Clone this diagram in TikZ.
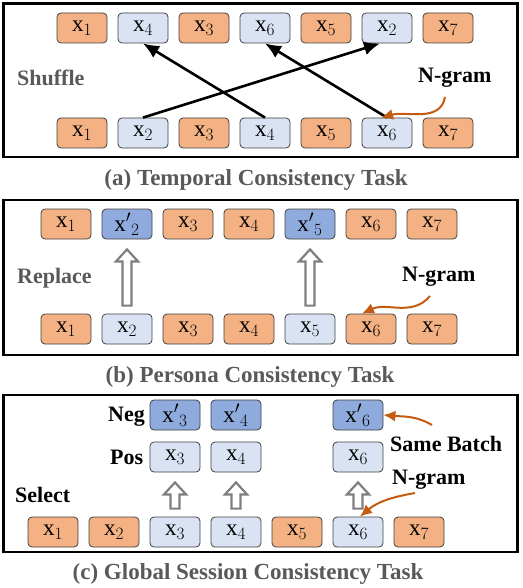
\documentclass[tikz,border=0pt]{standalone}
\usepackage{fontspec}
\setmainfont{Liberation Serif}
\usetikzlibrary{arrows.meta,calc}

\definecolor{tokor}{HTML}{F4B183}
\definecolor{tokbl}{HTML}{DAE3F3}
\definecolor{tokdk}{HTML}{8FAADC}
\definecolor{ngor}{HTML}{C55A11}
\definecolor{capgr}{HTML}{595959}
\definecolor{arrgr}{HTML}{7F7F7F}

\newcommand\tokx[1]{$\mathrm{x}_{#1}$}
\newcommand\tokxp[1]{${\mathrm{x}'}_{#1}$}

\tikzset{
  tok/.style={draw=black!75, line width=0.8pt, rounded corners=4pt,
    minimum width=50pt, minimum height=30pt, inner sep=0pt,
    font=\fontsize{23}{25}\selectfont},
  otok/.style={tok, fill=tokor},
  ltok/.style={tok, fill=tokbl},
  dtok/.style={tok, fill=tokdk},
  panel/.style={line width=2.8pt},
  lab/.style={inner sep=0pt, anchor=west, font=\fontsize{22}{24}\selectfont\bfseries},
  capt/.style={text=capgr, font=\fontsize{23}{25}\selectfont\bfseries},
  shufarrow/.style={line width=2.6pt, -{Latex[length=16pt,width=14pt]}},
  ngarrow/.style={draw=ngor, line width=2pt, -{Latex[length=12pt,width=11pt]}},
  hollowarr/.style={draw=arrgr, line width=2.2pt, fill=white},
}

% hollow block arrow from one token up to another
\newcommand\hollowup[2]{%
  \draw[hollowarr] let \p1=(#1.north), \p2=(#2.south) in
    (\x1-4.5pt,\y1+8pt) -- (\x1+4.5pt,\y1+8pt) -- (\x1+4.5pt,\y2-22pt)
    -- (\x1+11pt,\y2-22pt) -- (\x1,\y2-10pt) -- (\x1-11pt,\y2-22pt)
    -- (\x1-4.5pt,\y2-22pt) -- cycle;}

\begin{document}
\begin{tikzpicture}[x=1pt,y=-1pt]
  \useasboundingbox (0,0) rectangle (522,588);

  % (a) temporal
  \draw[panel] (3.5,3.5) rectangle (517.5,157);
  \foreach \i/\k/\s in {1/1/otok,2/4/ltok,3/3/otok,4/6/ltok,5/5/otok,6/2/ltok,7/7/otok}
    {
      \node[\s] (ta\k) at ({21+61*\i},28) {\tokx{\k}};
    }
  \foreach \i/\s in {1/otok,2/ltok,3/otok,4/ltok,5/otok,6/ltok,7/otok}
    {
      \node[\s] (ba\i) at ({21+61*\i},133) {\tokx{\i}};
    }
  \draw[shufarrow] (ba2.north) -- ([xshift=-7pt]ta2.south);
  \draw[shufarrow] (ba4.north) -- (ta4.south);
  \draw[shufarrow] (ba6.north) -- (ta6.south);
  \node[lab, text=capgr] (shuf) at (17,78) {Shuffle};
  \node[lab] (nga) at (418,78) {N-gram};
  \coordinate (nga-s) at (445,97);
  \draw[ngarrow] (nga-s) to[out=-100,in=15] ([xshift=-6pt]ba6.north);
  \node[capt] (capa) at (256,180) {(a) Temporal Consistency Task};

  % (b) persona
  \draw[panel] (3.5,200) rectangle (517.5,355);
  \foreach \i/\s in {1/otok,3/otok,4/otok,6/otok,7/otok}
    {
      \node[\s] (tb\i) at ({5+61*\i},224) {\tokx{\i}};
    }
  \node[dtok] (tb2) at (127,224) {\tokxp{2}};
  \node[dtok] (tb5) at (310,224) {\tokxp{5}};
  \foreach \i/\s in {1/otok,2/ltok,3/otok,4/otok,5/ltok,6/otok,7/otok}
    {
      \node[\s] (bb\i) at ({5+61*\i},329) {\tokx{\i}};
    }
  \hollowup{bb2}{tb2}
  \hollowup{bb5}{tb5}
  \node[lab, text=capgr] (repl) at (17,278) {Replace};
  \node[lab] (ngb) at (402,277) {N-gram};
  \coordinate (ngb-s) at (430,296);
  \draw[ngarrow] (ngb-s) to[out=-130,in=25] ([xshift=-9pt]bb6.north);
  \node[capt] (capb) at (250,377) {(b) Persona Consistency Task};

  % (c) global session
  \draw[panel] (3.5,395) rectangle (517.5,552);
  \foreach \i/\s in {1/otok,2/otok,3/ltok,4/ltok,5/otok,6/ltok,7/otok}
    {
      \node[\s] (bc\i) at ({-8+61*\i},532) {\tokx{\i}};
    }
  \foreach \i in {3,4,6}
    {
      \node[ltok] (pc\i) at ({-8+61*\i},457) {\tokx{\i}};
      \node[dtok] (nc\i) at ({-8+61*\i},415) {\tokxp{\i}};
      \hollowup{bc\i}{pc\i}
    }
  \node[lab] (neg) at (108,417) {Neg};
  \node[lab] (pos) at (110,457) {Pos};
  \node[lab] (sel) at (15,495) {Select};
  \node[lab] (same) at (390,444) {Same Batch};
  \node[lab] (ngc) at (392,480) {N-gram};
  \coordinate (same-s) at (432,425);
  \draw[ngarrow] (same-s) to[out=150,in=-5] (nc6.east);
  \coordinate (ngc-s) at (415,493);
  \draw[ngarrow] (ngc-s) to[out=190,in=40] ([xshift=2pt]bc6.north);
  \node[capt] (capc) at (248,574) {(c) Global Session Consistency Task};
\end{tikzpicture}
\end{document}
